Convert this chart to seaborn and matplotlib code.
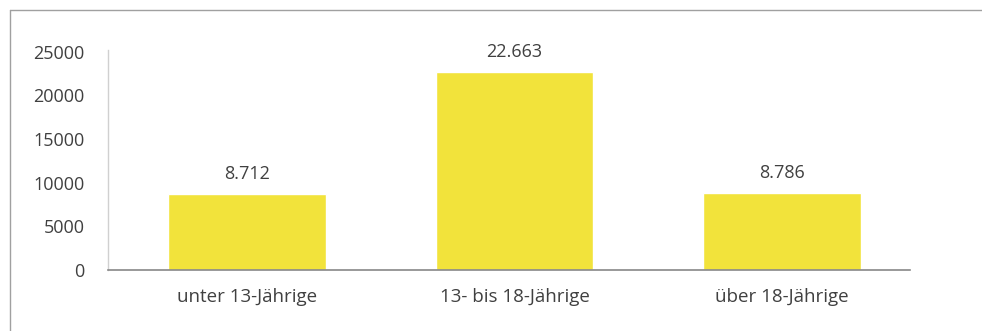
import matplotlib
matplotlib.use("Agg")
import matplotlib.pyplot as plt
import seaborn as sns
import pandas as pd
from matplotlib.lines import Line2D

categories = ["unter 13-Jährige", "13- bis 18-Jährige", "über 18-Jährige"]
values = [8712, 22663, 8786]
value_labels = ["8.712", "22.663", "8.786"]
yticks = [0, 5000, 10000, 15000, 20000, 25000]

sns.set_theme(style="white")
plt.rcParams['font.family'] = ['Open Sans', 'DejaVu Sans']

df = pd.DataFrame({"cat": categories, "val": values})

fig = plt.figure(figsize=(9.82, 3.31), dpi=100)
ax = fig.add_axes([0.110, 0.184, 0.817, 0.665])
sns.barplot(data=df, x="cat", y="val", color="#F2E33B", saturation=1, width=0.59, ax=ax)

ax.set_xlim(-0.52, 2.48)
ax.set_ylim(0, 25200)
ax.set_yticks(yticks)
ax.set_yticklabels([str(t) for t in yticks])
ax.set_xlabel("")
ax.set_ylabel("")
ax.tick_params(axis="y", length=0, pad=17, labelsize=13, labelcolor="#404040")
ax.tick_params(axis="x", length=0, pad=13, labelsize=13.5, labelcolor="#404040")

for s in ["top", "right"]:
    ax.spines[s].set_visible(False)
ax.spines["left"].set_color("#d0d0d0")
ax.spines["left"].set_linewidth(1)
ax.spines["bottom"].set_color("#888888")
ax.spines["bottom"].set_linewidth(1.2)

for p, lab in zip(ax.patches, value_labels):
    ax.annotate(lab, (p.get_x() + p.get_width() / 2, p.get_height()),
                xytext=(0, 8), textcoords="offset points", ha="center", va="bottom",
                fontsize=13, color="#404040")

# outer frame
fig.add_artist(Line2D([10/982, 1.0], [1 - 10/331, 1 - 10/331], transform=fig.transFigure, color="#a0a0a0", lw=1))
fig.add_artist(Line2D([10/982, 10/982], [0, 1 - 10/331], transform=fig.transFigure, color="#a0a0a0", lw=1))

fig.savefig("out.png", dpi=100)
